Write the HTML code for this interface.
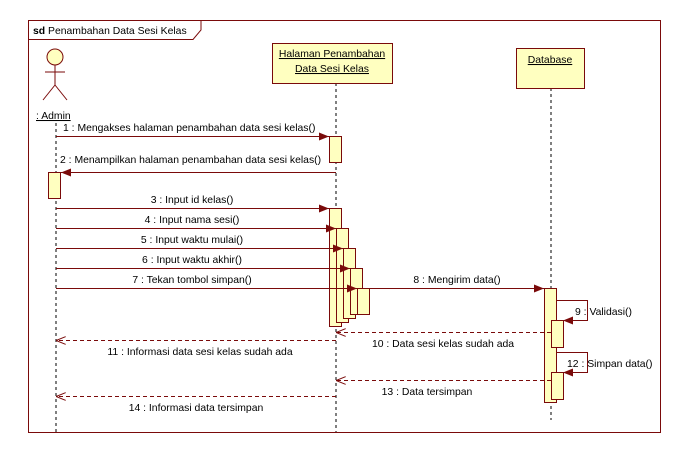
<!DOCTYPE html>
<html><head><meta charset="utf-8"><style>
html,body{margin:0;padding:0;background:#fff;}
svg{display:block;}
text{font-family:"Liberation Sans","DejaVu Sans",sans-serif;font-size:10.4px;fill:#000;}
</style></head><body>
<svg width="680" height="452" viewBox="0 0 680 452" xmlns="http://www.w3.org/2000/svg">
<defs>
<marker id="f" markerWidth="10" markerHeight="8" refX="10" refY="4" orient="auto" markerUnits="userSpaceOnUse"><path d="M0,0 L10,4 L0,8 Z" fill="#7a0a0a"/></marker>
<marker id="o" markerWidth="10" markerHeight="8" refX="10" refY="4" orient="auto" markerUnits="userSpaceOnUse"><path d="M0,0 L10,4 L0,8" fill="none" stroke="#7a0a0a" stroke-width="1"/></marker>
</defs>
<g stroke="#7a0a0a" fill="none">
<rect x="28.5" y="20.5" width="632" height="412"/>
<path d="M28.5,39.5 H193 L201,30 V20.5" />
</g>
<text x="33" y="34"><tspan font-weight="bold">sd</tspan> Penambahan Data Sesi Kelas</text>
<g stroke="#7a0a0a" fill="none">
<circle cx="55" cy="57" r="8" fill="#ffffc0"/>
<line x1="55" y1="65" x2="55" y2="85"/>
<line x1="45" y1="72" x2="65" y2="72"/>
<line x1="55" y1="85" x2="43" y2="100"/>
<line x1="55" y1="85" x2="67" y2="100"/>
</g>
<text x="36" y="119" text-decoration="underline">: Admin</text>
<g stroke="#000" stroke-dasharray="3,3">
<line x1="56" y1="123" x2="56" y2="432"/>
<line x1="336" y1="83" x2="336" y2="432"/>
<line x1="551" y1="88" x2="551" y2="420"/>
</g>
<rect x="272.5" y="43.5" width="120" height="40" fill="#ffffc0" stroke="#7a0a0a"/>
<text x="332" y="57" text-anchor="middle" text-decoration="underline">Halaman Penambahan</text>
<text x="332" y="72" text-anchor="middle" text-decoration="underline">Data Sesi Kelas</text>
<rect x="516.5" y="48.5" width="68" height="40" fill="#ffffc0" stroke="#7a0a0a"/>
<text x="550" y="63" text-anchor="middle" text-decoration="underline">Database</text>
<g fill="#ffffc0" stroke="#7a0a0a">
<rect x="329.5" y="136.5" width="12" height="26"/>
<rect x="48.5" y="172.5" width="12" height="26"/>
<rect x="329.5" y="208.5" width="12" height="118"/>
<rect x="336.5" y="228.5" width="12" height="94"/>
<rect x="343.5" y="248.5" width="12" height="70"/>
<rect x="350.5" y="268.5" width="12" height="46"/>
<rect x="357.5" y="288.5" width="12" height="26"/>
<rect x="544.5" y="288.5" width="12" height="114"/>
<rect x="551.5" y="320.5" width="12" height="27"/>
<rect x="551.5" y="372.5" width="12" height="27"/>
</g>
<g stroke="#7a0a0a" fill="none">
<line x1="56" y1="136.5" x2="329" y2="136.5" marker-end="url(#f)"/>
<line x1="336" y1="172.5" x2="61" y2="172.5" marker-end="url(#f)"/>
<line x1="56" y1="208.5" x2="329" y2="208.5" marker-end="url(#f)"/>
<line x1="56" y1="228.5" x2="336" y2="228.5" marker-end="url(#f)"/>
<line x1="56" y1="248.5" x2="343" y2="248.5" marker-end="url(#f)"/>
<line x1="56" y1="268.5" x2="350" y2="268.5" marker-end="url(#f)"/>
<line x1="56" y1="288.5" x2="357" y2="288.5" marker-end="url(#f)"/>
<line x1="369" y1="288.5" x2="544" y2="288.5" marker-end="url(#f)"/>
<path d="M556,300.5 H587.5 V320.5 H563" marker-end="url(#f)"/>
<path d="M556,352.5 H587.5 V372.5 H563" marker-end="url(#f)"/>
<g stroke-dasharray="4,3">
<line x1="551" y1="332.5" x2="336" y2="332.5" marker-end="url(#o)"/>
<line x1="336" y1="340.5" x2="56" y2="340.5" marker-end="url(#o)"/>
<line x1="551" y1="380.5" x2="336" y2="380.5" marker-end="url(#o)"/>
<line x1="336" y1="396.5" x2="56" y2="396.5" marker-end="url(#o)"/>
</g>
</g>
<text x="63" y="131">1 : Mengakses halaman penambahan data sesi kelas()</text>
<text x="60" y="163">2 : Menampilkan halaman penambahan data sesi kelas()</text>
<text x="192" y="203" text-anchor="middle">3 : Input id kelas()</text>
<text x="192" y="223" text-anchor="middle">4 : Input nama sesi()</text>
<text x="192" y="243" text-anchor="middle">5 : Input waktu mulai()</text>
<text x="192" y="263" text-anchor="middle">6 : Input waktu akhir()</text>
<text x="192" y="283" text-anchor="middle">7 : Tekan tombol simpan()</text>
<text x="457" y="283" text-anchor="middle">8 : Mengirim data()</text>
<text x="575" y="315">9 : Validasi()</text>
<text x="443" y="347" text-anchor="middle">10 : Data sesi kelas sudah ada</text>
<text x="200" y="355" text-anchor="middle">11 : Informasi data sesi kelas sudah ada</text>
<text x="567" y="367">12 : Simpan data()</text>
<text x="427" y="395" text-anchor="middle">13 : Data tersimpan</text>
<text x="196" y="411" text-anchor="middle">14 : Informasi data tersimpan</text>
</svg>
</body></html>
